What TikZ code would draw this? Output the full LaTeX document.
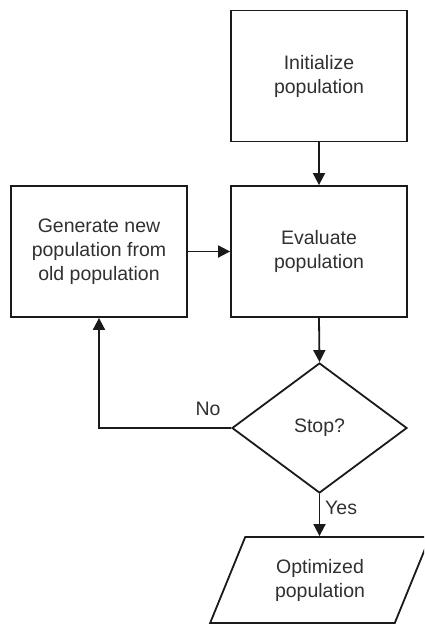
\documentclass[tikz,border=0pt]{standalone}
\usepackage{fontspec}
\setmainfont{Liberation Sans}
\usetikzlibrary{shapes.geometric,arrows.meta}
\definecolor{linec}{HTML}{1A1A1A}
\definecolor{textc}{HTML}{303030}
\tikzset{
  box/.style={draw=linec, line width=1.8pt, rectangle, minimum width=176pt, minimum height=131pt, inner sep=0pt, align=center, text=textc, font=\fontsize{19.5pt}{24pt}\selectfont},
  decision/.style={draw=linec, line width=1.8pt, diamond, aspect=1.346, minimum width=175pt, minimum height=130pt, inner sep=0pt, align=center, text=textc, font=\fontsize{19.5pt}{24pt}\selectfont},
  iobox/.style={draw=linec, line width=1.8pt, trapezium, trapezium left angle=63.4, trapezium right angle=116.6, trapezium stretches=true, minimum width=220pt, minimum height=86pt, inner sep=0pt, align=center, text=textc, font=\fontsize{19.5pt}{24pt}\selectfont},
  lbl/.style={text=textc, inner sep=0pt, font=\fontsize{19.5pt}{24pt}\selectfont},
  conn/.style={draw=linec, line width=1.8pt, -{Triangle[length=12pt,width=12pt]}}
}
\begin{document}
\begin{tikzpicture}[x=1pt,y=-1pt]
\useasboundingbox (0,0) rectangle (424,624);
\clip (0,0) rectangle (424,624);
\node[box] (init) at (319,76) {Initialize\\population};
\node[box] (eval) at (319,251.5) {Evaluate\\population};
\node[box] (gen) at (99,251.5) {Generate new\\population from\\old population};
\node[decision] (stop) at (319.5,428) {Stop?};
\node[iobox] (opt) at (320,580) {Optimized\\population};
\node[lbl] (no) at (208,409) {No};
\node[lbl, anchor=west] (yes) at (325,508) {Yes};
\draw[conn] (init.south) -- (eval.north);
\draw[conn] (gen.east) -- (eval.west);
\draw[conn] (eval.south) -- (stop.north);
\draw[conn] (stop.west) -| (gen.south);
\draw[conn] (stop.south) -- (opt.north -| stop.south);
\end{tikzpicture}
\end{document}
